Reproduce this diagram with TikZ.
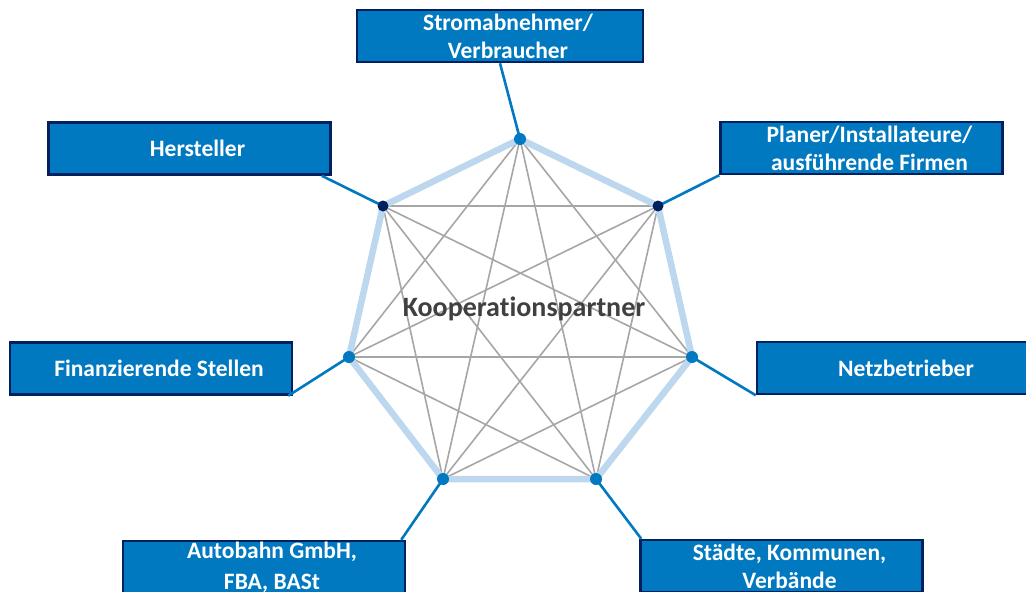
\documentclass[tikz,border=0pt]{standalone}
\usepackage{fontspec}
\setmainfont{Carlito}[Ligatures=NoCommon]
\usetikzlibrary{positioning}

\definecolor{boxblue}{RGB}{0,121,193}
\definecolor{boxnavy}{RGB}{0,32,96}
\definecolor{ringblue}{RGB}{189,215,238}
\definecolor{meshgray}{RGB}{166,166,166}
\definecolor{titlegray}{RGB}{64,64,64}

\begin{document}
\begin{tikzpicture}[
  x=1pt, y=-1pt,
  partner/.style={draw=boxnavy, fill=boxblue, line width=2.5pt,
    minimum width=282pt, minimum height=52pt, inner sep=0pt,
    label={[boxtext, xshift=8pt]center:#1}},
  boxtext/.style={text=white, align=center,
    font=\fontsize{23.5}{28}\selectfont\bfseries},
  link/.style={draw=boxblue, line width=2.6pt},
  mesh/.style={draw=meshgray, line width=1.6pt},
  ring/.style={draw=ringblue, line width=6.5pt, line join=round},
  dot/.style={circle, fill=boxblue, minimum size=12pt, inner sep=0pt},
  navydot/.style={dot, fill=boxnavy, minimum size=11pt}
]
\useasboundingbox (0,0) rectangle (1026,592);

% corners of the ring
\coordinate (v1) at (520,139);
\coordinate (v2) at (658,206);
\coordinate (v3) at (692,357);
\coordinate (v4) at (596,479);
\coordinate (v5) at (443,479);
\coordinate (v6) at (349,357);
\coordinate (v7) at (383,206);

% everyone with everyone
\foreach \i in {1,...,7}{
  \foreach \j in {1,...,7}{
    \ifnum\i<\j \draw[mesh] (v\i) -- (v\j); \fi
  }
}

\draw[ring] (v1) -- (v2) -- (v3) -- (v4) -- (v5) -- (v6) -- (v7) -- cycle;

\node[font=\fontsize{28}{33}\selectfont\bfseries, text=titlegray] (title) at (524,309) {Kooperationspartner};

% partner boxes
\node[partner={Stromabnehmer/\\Verbraucher}, minimum width=286pt] (strom) at (500,36) {};
\node[partner={Hersteller}] (herst) at (189.5,148.5) {};
\node[partner={Planer/Installateure/\\ausführende Firmen}] (planer) at (861.5,148) {};
\node[partner={Finanzierende Stellen}] (finanz) at (151,368.5) {};
\node[partner={Netzbetrieber}] (netz) at (898,368) {};
\node[partner={Autobahn GmbH,\\[3pt]FBA, BASt}] (autob) at (264,567) {};
\node[partner={Städte, Kommunen,\\Verbände}] (staedte) at (781.5,566) {};

% connectors
\draw[link] (v1) -- (strom.south);
\draw[link] (v7) -- ([xshift=-10pt]herst.south east);
\draw[link] (v2) -- (planer.south west);
\draw[link] (v6) -- ([xshift=-5pt]finanz.south east);
\draw[link] (v3) -- (netz.south west);
\draw[link] (v5) -- ([xshift=-5pt]autob.north east);
\draw[link] (v4) -- ([xshift=2pt]staedte.north west);

% dots on the corners
\foreach \k in {1,3,4,5,6}
  \node[dot] (d\k) at (v\k) {};
\node[navydot] (d2) at (v2) {};
\node[navydot] (d7) at (v7) {};
\end{tikzpicture}
\end{document}
